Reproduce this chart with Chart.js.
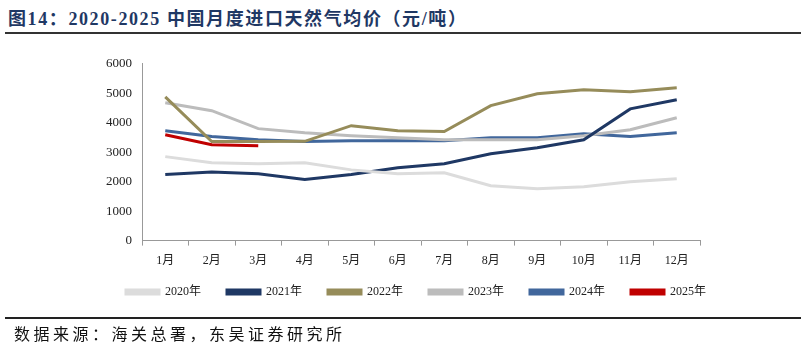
<!DOCTYPE html>
<html>
<head>
<meta charset="utf-8">
<script src="https://cdn.jsdelivr.net/npm/chart.js@4"></script>
<style>
  body { margin: 0; background: #fff; width: 805px; height: 351px; position: relative; overflow: hidden; }
  .title { position: absolute; left: 8px; top: 4px; font: bold 18px "Liberation Serif", "Noto Sans CJK SC", serif; color: #1f3864; letter-spacing: 1.6px; }
  .rule-top { position: absolute; left: 5px; right: 4px; top: 32px; height: 2px; background: #333; }
  .rule-bottom { position: absolute; left: 5px; right: 4px; top: 317px; height: 2px; background: #222; }
  .source { position: absolute; left: 14px; top: 321px; font: 16px "Noto Sans CJK SC", sans-serif; color: #111; letter-spacing: 3.5px; }
  .chart-box { position: absolute; left: 71px; top: 46px; width: 689px; height: 278px; }
</style>
</head>
<body>
<div class="title">图14：2020-2025 中国月度进口天然气均价（元/吨）</div>
<div class="rule-top"></div>
<div class="chart-box"><canvas id="chart"></canvas></div>
<div class="rule-bottom"></div>
<div class="source">数据来源：海关总署，东吴证券研究所</div>
<script>
const months = ["1月", "2月", "3月", "4月", "5月", "6月", "7月", "8月", "9月", "10月", "11月", "12月"];
const y2020 = [2850, 2640, 2610, 2640, 2400, 2270, 2300, 1860, 1760, 1830, 2000, 2100];
const y2021 = [2240, 2330, 2270, 2070, 2240, 2470, 2610, 2950, 3150, 3420, 4470, 4780];
const y2022 = [4880, 3360, 3360, 3370, 3900, 3730, 3700, 4580, 4980, 5120, 5050, 5190];
const y2023 = [4680, 4410, 3800, 3660, 3560, 3490, 3420, 3420, 3420, 3560, 3760, 4170];
const y2024 = [3730, 3530, 3420, 3360, 3390, 3390, 3390, 3490, 3490, 3630, 3530, 3660];
const y2025 = [3590, 3250, 3220];
const yTicks = [0, 1000, 2000, 3000, 4000, 5000, 6000];

const seriesDefs = [
  ["2020年", y2020, "#dcdcdc"],
  ["2021年", y2021, "#1f3864"],
  ["2022年", y2022, "#968c5a"],
  ["2023年", y2023, "#bcbcbc"],
  ["2024年", y2024, "#41679c"],
  ["2025年", y2025, "#c00000"]
];

const serif = "'Liberation Serif', 'Noto Sans CJK SC', serif";

// pull the legend row a little closer to the month labels
const legendNudge = {
  id: "legendNudge",
  afterLayout(chart) {
    chart.legend.top -= 16;
    chart.legend.bottom -= 16;
  }
};

new Chart(document.getElementById("chart"), {
  type: "line",
  data: {
    labels: months,
    datasets: seriesDefs.map(([label, data, color]) => ({
      label: label,
      data: data,
      borderColor: color,
      backgroundColor: color,
      borderWidth: 3,
      pointRadius: 0,
      tension: 0,
      yAxisID: "y"
    }))
  },
  options: {
    responsive: true,
    maintainAspectRatio: false,
    animation: false,
    layout: { padding: { left: 29, right: 0, top: 2, bottom: 0 } },
    plugins: {
      legend: {
        position: "bottom",
        align: "start",
        labels: {
          boxWidth: 33,
          boxHeight: 4,
          padding: 26,
          color: "#222",
          font: { family: serif, size: 12 }
        }
      },
      tooltip: { enabled: false }
    },
    scales: {
      x: {
        offset: true,
        grid: { display: true, drawOnChartArea: false, offset: true, tickLength: 5, color: "#999" },
        border: { color: "#999" },
        ticks: { color: "#222", padding: 8, font: { family: serif, size: 12 } }
      },
      y: {
        min: 0,
        max: 6000,
        afterBuildTicks: (axis) => { axis.ticks = yTicks.map(v => ({ value: v })); },
        afterFit: (axis) => { axis.width = 42; },
        grid: { display: false, drawTicks: false },
        border: { color: "#999" },
        ticks: { color: "#222", padding: 10, font: { family: serif, size: 13 }, callback: (v) => String(v) }
      },
      yRight: {
        position: "right",
        display: true,
        grid: { display: false, drawTicks: false },
        border: { display: false },
        ticks: { display: false },
        afterFit: (axis) => { axis.width = 60; }
      }
    }
  },
  plugins: [legendNudge]
});
</script>
</body>
</html>
